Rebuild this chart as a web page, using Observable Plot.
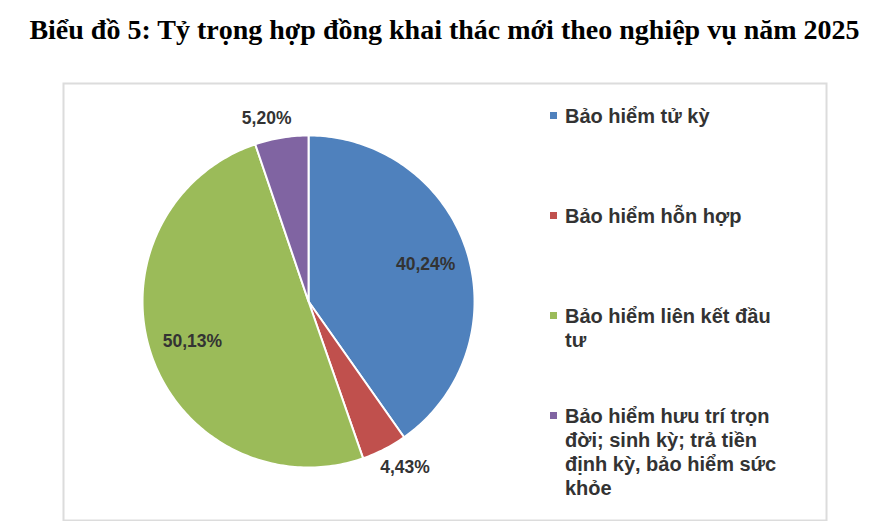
<!DOCTYPE html>
<html>
<head>
<meta charset="utf-8">
<script src="https://cdn.jsdelivr.net/npm/d3@7"></script>
<script src="https://cdn.jsdelivr.net/npm/@observablehq/plot@0.6"></script>
<style>
  html, body { margin: 0; padding: 0; background: #fff; }
  #page { position: relative; width: 889px; height: 521px; overflow: hidden; background: #fff; }
  #title { position: absolute; left: 0; top: 15px; width: 889px; text-align: center;
    font-family: "Liberation Serif", "Times New Roman", serif; font-weight: bold; font-size: 28px;
    line-height: 30px; color: #000; white-space: nowrap; }
  #chart { position: absolute; left: 0; top: 60px; }
  .item { position: absolute; left: 565px; font-family: "Liberation Sans", Arial, sans-serif;
    font-weight: bold; font-size: 20px; line-height: 24px; color: #333; white-space: nowrap; }
  .sw { position: absolute; left: -15px; top: 8px; width: 7px; height: 7px; }
</style>
</head>
<body>
<div id="page">
  <div id="title"></div>
  <div id="chart"></div>
  <div id="legend"></div>
</div>
<script>
const titleText = "Biểu đồ 5: Tỷ trọng hợp đồng khai thác mới theo nghiệp vụ năm 2025";
const categories = [
  "Bảo hiểm tử kỳ",
  "Bảo hiểm hỗn hợp",
  "Bảo hiểm liên kết đầu tư",
  "Bảo hiểm hưu trí trọn đời; sinh kỳ; trả tiền định kỳ, bảo hiểm sức khỏe"
];
const values = [40.24, 4.43, 50.13, 5.20];
const colors = ["#4F81BD", "#C0504D", "#9BBB59", "#8064A2"];
const legendLines = [
  ["Bảo hiểm tử kỳ"],
  ["Bảo hiểm hỗn hợp"],
  ["Bảo hiểm liên kết đầu", "tư"],
  ["Bảo hiểm hưu trí trọn", "đời; sinh kỳ; trả tiền", "định kỳ, bảo hiểm sức", "khỏe"]
];

document.getElementById("title").textContent = titleText;

// pie geometry derived from values
const arcs = d3.pie().sort(null).value(d => d)(values);
const slicePts = [];
arcs.forEach((a, i) => {
  slicePts.push({name: categories[i], x: 0, y: 0});
  const n = Math.max(2, Math.ceil((a.endAngle - a.startAngle) / (Math.PI / 180)));
  for (let k = 0; k <= n; k++) {
    const t = a.startAngle + (a.endAngle - a.startAngle) * k / n;
    slicePts.push({name: categories[i], x: Math.sin(t), y: Math.cos(t)});
  }
});

const labels = arcs.map((a, i) => {
  const m = (a.startAngle + a.endAngle) / 2;
  const inside = values[i] > 10;
  const r = inside ? 0.74 : 1.12;
  const shift = inside ? 0 : Math.sign(Math.sin(m)) * 0.07;
  return {
    text: values[i].toFixed(2).replace(".", ",") + "%",
    x: Math.sin(m) * r + shift,
    y: Math.cos(m) * r
  };
});

const chart = Plot.plot({
  width: 889,
  height: 461,
  marginTop: 23,
  marginBottom: 1,
  marginLeft: 63,
  marginRight: 63,
  x: {domain: [-1.476, 3.120], axis: null},
  y: {domain: [-1.319, 1.313], axis: null},
  color: {domain: categories, range: colors},
  style: {background: "#fff", overflow: "visible"},
  marks: [
    Plot.frame({stroke: "#dcdcdc", strokeWidth: 2}),
    Plot.line(slicePts, {x: "x", y: "y", z: "name", fill: "name", stroke: "#fff", strokeWidth: 2,
      curve: "linear-closed", strokeLinejoin: "round"}),
    Plot.text(labels, {x: "x", y: "y", text: "text", fontSize: 17.5, fontWeight: "bold",
      fill: "#333", fontFamily: "Liberation Sans, Arial, sans-serif"})
  ]
});
document.getElementById("chart").appendChild(chart);

const legend = document.getElementById("legend");
legendLines.forEach((lines, i) => {
  const div = document.createElement("div");
  div.className = "item";
  div.style.top = (104 + i * 100) + "px";
  const sw = document.createElement("span");
  sw.className = "sw";
  sw.style.background = colors[i];
  div.appendChild(sw);
  lines.forEach((ln, j) => {
    if (j > 0) div.appendChild(document.createElement("br"));
    div.appendChild(document.createTextNode(ln));
  });
  legend.appendChild(div);
});
</script>
</body>
</html>
